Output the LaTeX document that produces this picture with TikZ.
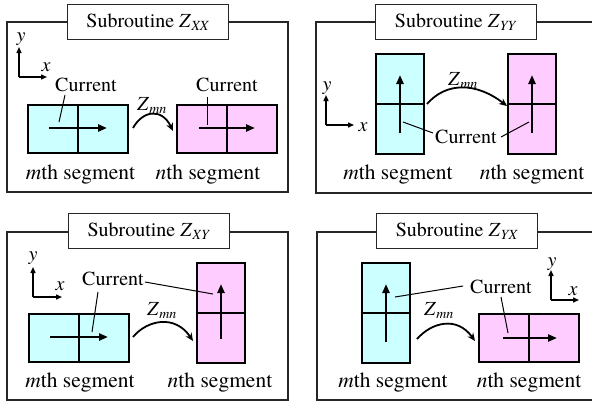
\documentclass[tikz,border=0pt]{standalone}
\usepackage{fontspec}
\setmainfont{texgyretermes-regular.otf}[
  ItalicFont=texgyretermes-italic.otf,
  BoldFont=texgyretermes-bold.otf,
  BoldItalicFont=texgyretermes-bolditalic.otf]
\usetikzlibrary{arrows.meta}
\definecolor{segm}{HTML}{CCFFFF}
\definecolor{segn}{HTML}{FFCCFF}
\tikzset{
  frame/.style={draw=black!85, line width=1.4bp},
  titlebox/.style={draw=black!85, line width=1.4bp, fill=white, inner sep=0pt,
    minimum width=161bp, minimum height=35bp},
  segbox/.style={draw=black, line width=2.8bp, inner sep=0pt},
  hseg/.style={segbox, minimum width=100bp, minimum height=48bp},
  vseg/.style={segbox, minimum width=48bp, minimum height=100bp},
  divider/.style={draw=black, line width=2.4bp},
  cur/.style={line width=2.4bp, -{Triangle[length=9bp,width=7bp]}},
  lead/.style={line width=1bp},
  zarr/.style={line width=1.8bp, -{Stealth[length=8bp,width=7bp]}},
  axis/.style={line width=1.4bp, -{Triangle[length=6bp,width=5bp]}},
  txt/.style={inner sep=0pt, anchor=base},
  seglabel/.style={txt, font=\fontsize{21.5bp}{26bp}\selectfont},
}
\newcommand{\zmn}{\textit{Z}\textsubscript{\textit{mn}}}
\begin{document}
\begin{tikzpicture}[x=1bp,y=-1bp, font=\fontsize{20bp}{24bp}\selectfont]
\useasboundingbox (0,0) rectangle (592,401);

% ---------- Z_XX ----------
\draw[frame] (7,22) rectangle (288,192);
\node[titlebox] (t1) at (148,22) {Subroutine \textit{Z}\textsubscript{\textit{XX}}};
\coordinate (o1) at (19,77);
\draw[axis] (o1) -- ++(0,-30) coordinate (oy1);
\draw[axis] (o1) -- ++(28,0) coordinate (ox1);
\node[txt] (ly1) at (21,41) {\textit{y}};
\node[txt] (lx1) at (46,71) {\textit{x}};
\node[hseg, fill=segm] (m1) at (78,129) {};
\node[hseg, fill=segn] (n1) at (227,129) {};
\draw[divider] (m1.north) -- (m1.south);
\draw[divider] (n1.north) -- (n1.south);
\coordinate (ma1) at (49,128); \coordinate (mb1) at (107,128);
\coordinate (na1) at (199,128); \coordinate (nb1) at (255,128);
\draw[cur] (ma1) -- (mb1);
\draw[cur] (na1) -- (nb1);
\node[txt] (c1a) at (86,91) {Current};
\node[txt] (c1b) at (227,91) {Current};
\coordinate (l1a) at (65,95); \coordinate (l1b) at (59,122);
\coordinate (l1c) at (207,97); \coordinate (l1d) at (207,125);
\draw[lead] (l1a) -- (l1b);
\draw[lead] (l1c) -- (l1d);
\node[txt] (z1) at (152,110) {\zmn};
\coordinate (za1) at (133,128); \coordinate (zb1) at (173,131);
\draw[zarr] (za1) .. controls (143,110) and (162,108) .. (zb1);
\node[seglabel] (sm1) at (80.5,179) {\textit{m}th segment};
\node[seglabel] (sn1) at (208,179) {\textit{n}th segment};

% ---------- Z_YY ----------
\draw[frame] (316,22) rectangle (600,193);
\node[titlebox] (t2) at (456,22) {Subroutine \textit{Z}\textsubscript{\textit{YY}}};
\coordinate (o2) at (326,125);
\draw[axis] (o2) -- ++(0,-30) coordinate (oy2);
\draw[axis] (o2) -- ++(28,0) coordinate (ox2);
\node[txt] (ly2) at (327,90) {\textit{y}};
\node[txt] (lx2) at (363,131) {\textit{x}};
\node[vseg, fill=segm] (m2) at (400,104) {};
\node[vseg, fill=segn] (n2) at (532,104) {};
\draw[divider] (m2.west) -- (m2.east);
\draw[divider] (n2.west) -- (n2.east);
\coordinate (ma2) at (400,133); \coordinate (mb2) at (400,75);
\coordinate (na2) at (532,133); \coordinate (nb2) at (532,75);
\draw[cur] (ma2) -- (mb2);
\draw[cur] (na2) -- (nb2);
\node[txt] (c2) at (466,143) {Current};
\coordinate (l2a) at (433,133); \coordinate (l2b) at (403,122);
\coordinate (l2c) at (501,137); \coordinate (l2d) at (529,122);
\draw[lead] (l2a) -- (l2b);
\draw[lead] (l2c) -- (l2d);
\node[txt] (z2) at (463,85) {\zmn};
\coordinate (za2) at (427,104); \coordinate (zb2) at (507,106);
\draw[zarr] (za2) .. controls (446,82) and (476,82) .. (zb2);
\node[seglabel] (sm2) at (398,179) {\textit{m}th segment};
\node[seglabel] (sn2) at (532,179) {\textit{n}th segment};

% ---------- Z_XY ----------
\draw[frame] (7,232) rectangle (288,400);
\node[titlebox] (t3) at (149,231) {Subroutine \textit{Z}\textsubscript{\textit{XY}}};
\coordinate (o3) at (33,297);
\draw[axis] (o3) -- ++(0,-30) coordinate (oy3);
\draw[axis] (o3) -- ++(29,0) coordinate (ox3);
\node[txt] (ly3) at (33,260) {\textit{y}};
\node[txt] (lx3) at (60,290) {\textit{x}};
\node[hseg, fill=segm] (m3) at (79,338) {};
\node[vseg, fill=segn] (n3) at (221,313) {};
\draw[divider] (m3.north) -- (m3.south);
\draw[divider] (n3.west) -- (n3.east);
\coordinate (ma3) at (50,337); \coordinate (mb3) at (108,337);
\coordinate (na3) at (221,339); \coordinate (nb3) at (221,284);
\draw[cur] (ma3) -- (mb3);
\draw[cur] (na3) -- (nb3);
\node[txt] (c3) at (113,285) {Current};
\coordinate (l3a) at (98,292); \coordinate (l3b) at (92,332);
\coordinate (l3c) at (145,282); \coordinate (l3d) at (213,294);
\draw[lead] (l3a) -- (l3b);
\draw[lead] (l3c) -- (l3d);
\node[txt] (z3) at (162,315) {\zmn};
\coordinate (za3) at (133,337); \coordinate (zb3) at (193,341);
\draw[zarr] (za3) .. controls (147,320) and (175,314) .. (zb3);
\node[seglabel] (sm3) at (80,387) {\textit{m}th segment};
\node[seglabel] (sn3) at (220,387) {\textit{n}th segment};

% ---------- Z_YX ----------
\draw[frame] (317,232) rectangle (600,400);
\node[titlebox] (t4) at (457,231) {Subroutine \textit{Z}\textsubscript{\textit{YX}}};
\coordinate (o4) at (551,300);
\draw[axis] (o4) -- ++(0,-30) coordinate (oy4);
\draw[axis] (o4) -- ++(28,0) coordinate (ox4);
\node[txt] (ly4) at (552,266) {\textit{y}};
\node[txt] (lx4) at (573,295) {\textit{x}};
\node[vseg, fill=segm] (m4) at (386,313) {};
\node[hseg, fill=segn] (n4) at (529,338) {};
\draw[divider] (m4.west) -- (m4.east);
\draw[divider] (n4.north) -- (n4.south);
\coordinate (ma4) at (386,342); \coordinate (mb4) at (386,284);
\coordinate (na4) at (503,338); \coordinate (nb4) at (557,338);
\draw[cur] (ma4) -- (mb4);
\draw[cur] (na4) -- (nb4);
\node[txt] (c4) at (501,293) {Current};
\coordinate (l4a) at (463,286); \coordinate (l4b) at (395,297);
\coordinate (l4c) at (501,297); \coordinate (l4d) at (508,333);
\draw[lead] (l4a) -- (l4b);
\draw[lead] (l4c) -- (l4d);
\node[txt] (z4) at (439,315) {\zmn};
\coordinate (za4) at (417,339); \coordinate (zb4) at (475,341);
\draw[zarr] (za4) .. controls (432,322) and (457,316) .. (zb4);
\node[seglabel] (sm4) at (393,387) {\textit{m}th segment};
\node[seglabel] (sn4) at (529,387) {\textit{n}th segment};
\end{tikzpicture}
\end{document}
